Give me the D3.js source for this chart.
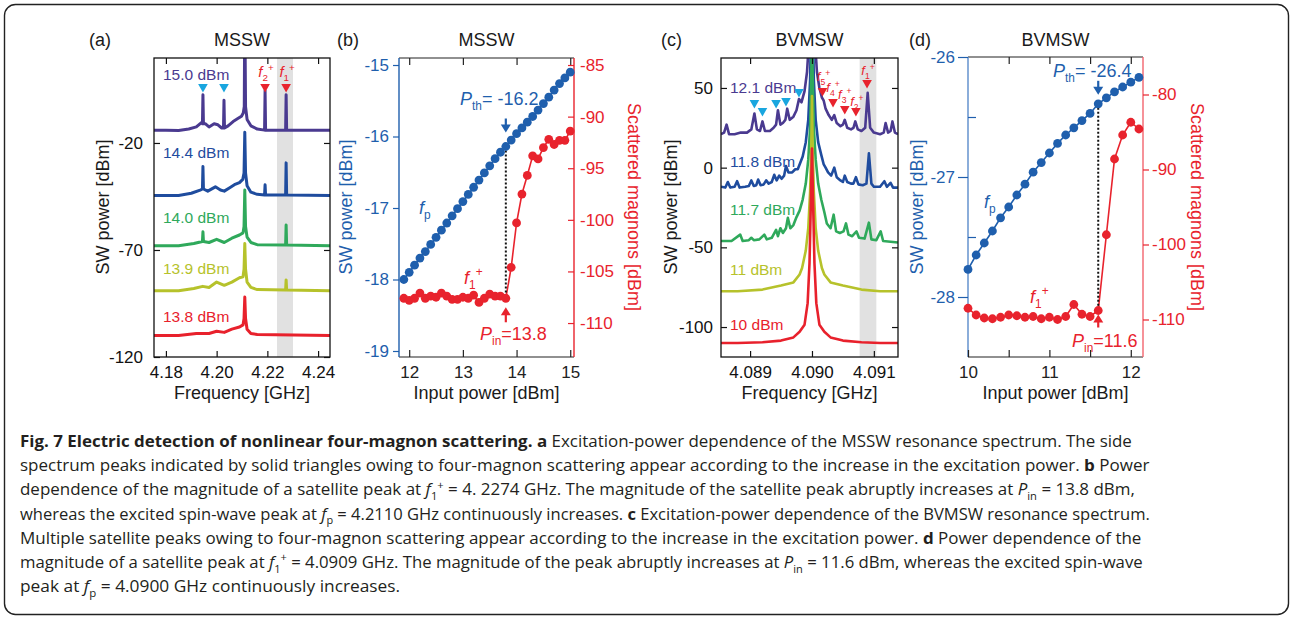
<!DOCTYPE html>
<html>
<head>
<meta charset="utf-8">
<script src="https://cdn.jsdelivr.net/npm/d3@7"></script>
<style>
  body { margin: 0; background: #fff; }
  svg { display: block; }
</style>
</head>
<body>
<script>
// ---------- data ----------
// (a) MSSW spectra, [GHz, dBm]
const msswLevels = ["15.0 dBm", "14.4 dBm", "14.0 dBm", "13.9 dBm", "13.8 dBm"];
const mssw150 = [[4.1753,-14],[4.180,-14],[4.185,-14.2],[4.189,-13.5],[4.192,-12.5],[4.1940,-10.5],[4.1944,-11],[4.1946,2.5],[4.1948,-11],[4.1955,-11],[4.197,-12.5],[4.1990,-11],[4.2005,-11.5],[4.2020,-13],[4.2027,-13],[4.2029,0],[4.2031,-13],[4.2045,-12],[4.2065,-10],[4.2085,-8.5],[4.2098,-7.5],[4.2105,-6],[4.2109,-3],[4.2111,45],[4.2114,-3],[4.2120,-9],[4.2135,-12],[4.216,-13.5],[4.2189,-14],[4.2191,4.5],[4.2193,-14],[4.2230,-14],[4.2272,-14],[4.2274,2.5],[4.2276,-14],[4.235,-14],[4.2447,-14]];
const mssw144 = [[4.1753,-44.5],[4.185,-44.5],[4.190,-43.5],[4.1935,-42],[4.1944,-41.5],[4.1946,-31],[4.1948,-41.5],[4.1965,-42.5],[4.1995,-40.5],[4.2015,-42],[4.203,-42.5],[4.205,-41],[4.207,-39.5],[4.2090,-38.5],[4.2103,-37],[4.2108,-34],[4.2111,-15],[4.2114,-34],[4.2120,-40],[4.2135,-43],[4.216,-44],[4.2189,-44.3],[4.2191,-39.5],[4.2193,-44.3],[4.2272,-44.3],[4.2274,-29.3],[4.2276,-44.3],[4.2447,-44.5]];
const mssw140 = [[4.1753,-68],[4.185,-68],[4.191,-67],[4.1944,-66],[4.1946,-61.5],[4.1948,-66],[4.197,-66.5],[4.2,-65],[4.203,-66.5],[4.206,-64.5],[4.209,-63],[4.2104,-62],[4.2108,-59],[4.2111,-42],[4.2114,-59],[4.212,-64],[4.2135,-66.5],[4.216,-67.5],[4.2272,-67.7],[4.2274,-58.3],[4.2276,-67.7],[4.2447,-68]];
const mssw139 = [[4.1753,-89],[4.185,-89],[4.191,-88],[4.1945,-87],[4.197,-87.5],[4.2,-85],[4.203,-86.5],[4.206,-85],[4.209,-83],[4.2104,-82.5],[4.2108,-79],[4.2111,-67],[4.2114,-79],[4.212,-85],[4.2135,-87.5],[4.216,-88.5],[4.2272,-88.7],[4.2274,-84],[4.2276,-88.7],[4.2447,-89]];
const mssw138 = [[4.1753,-110],[4.185,-110],[4.192,-109],[4.197,-109],[4.2,-108],[4.203,-108.5],[4.206,-107],[4.209,-106],[4.2104,-105],[4.2108,-102],[4.2111,-92],[4.2114,-102],[4.212,-107],[4.2135,-109],[4.216,-109.5],[4.2447,-110]];
const msswBand = [4.2238, 4.2301];
const msswIdlers = [4.1946, 4.2029];
const msswSignals = [4.2191, 4.2274];
const msswSignalNames = ["2", "1"];
const msswFreqTicks = [4.18, 4.20, 4.22, 4.24];
const msswPowTicks = [-120, -70, -20];

// (b) MSSW power dependence
const bInput = [11.9,12.0,12.1,12.2,12.3,12.4,12.5,12.6,12.7,12.8,12.9,13.0,13.1,13.2,13.3,13.4,13.5,13.6,13.7,13.8,13.9,14.0,14.1,14.2,14.3,14.4,14.5,14.6,14.7,14.8,14.9,15.0];
const bPump = [-18.00,-17.90,-17.80,-17.70,-17.61,-17.51,-17.41,-17.31,-17.21,-17.11,-17.01,-16.91,-16.81,-16.71,-16.61,-16.51,-16.41,-16.31,-16.22,-16.14,-16.05,-15.96,-15.88,-15.80,-15.72,-15.63,-15.54,-15.45,-15.35,-15.26,-15.18,-15.10];
const bScatter = [-107.6,-107.8,-107.6,-107.1,-107.6,-107.4,-107.5,-107.1,-107.4,-107.7,-107.7,-107.5,-107.6,-107.3,-108.0,-107.6,-107.2,-107.4,-107.4,-107.6,-104.6,-100.3,-97.5,-95.7,-93.8,-94.1,-93.0,-92.2,-92.7,-92.3,-92.3,-91.4];
const bThreshold = 13.8;
const bXTicks = [12, 13, 14, 15];
const bYTicks = [-19, -18, -17, -16, -15];
const bY2Ticks = [-110, -105, -100, -95, -90, -85];

// (c) BVMSW spectra, [GHz, dBm]
const bvLevels = ["12.1 dBm", "11.8 dBm", "11.7 dBm", "11 dBm", "10 dBm"];
const bv121 = [[4.08853,21],[4.08858,22],[4.08862,27],[4.08866,21],[4.08875,21],[4.08885,22],[4.08895,22],[4.08902,24],[4.08907,34],[4.08911,24],[4.08916,23],[4.0892,29],[4.08924,23],[4.08932,23],[4.08938,25],[4.08942,27],[4.08945,36],[4.08949,27],[4.08953,28],[4.08957,30],[4.0896,37],[4.08964,30],[4.0897,32],[4.08975,36],[4.08979,43],[4.08983,41],[4.08988,48],[4.08992,60],[4.08996,85],[4.08998,120],[4.0900,160],[4.09002,120],[4.09004,85],[4.09008,60],[4.09012,50],[4.09016,44],[4.09019,42],[4.09022,37],[4.09027,33],[4.09032,30],[4.09036,33],[4.0904,28],[4.09046,26],[4.0905,27],[4.09053,30],[4.09057,25],[4.09063,24],[4.09067,25],[4.0907,29],[4.09074,24],[4.0908,23],[4.09086,25],[4.0909,47],[4.09094,25],[4.091,22],[4.0911,21],[4.09116,22],[4.09119,28],[4.09123,22],[4.09127,23],[4.0913,29],[4.09134,22],[4.09139,21]];
const bv118 = [[4.08853,-12],[4.0886,-12.5],[4.08864,-9],[4.08868,-12.5],[4.08875,-12],[4.08879,-8.5],[4.08883,-12.5],[4.08892,-12],[4.08898,-11.5],[4.08902,-8],[4.08906,-11.5],[4.0891,-11],[4.08913,-7.5],[4.08917,-11],[4.08922,-10.5],[4.08926,-8],[4.0893,-10],[4.08935,-9],[4.08939,-4.5],[4.08943,-8],[4.08947,-5],[4.08951,-7],[4.08955,-5],[4.08958,1],[4.08962,-3],[4.08968,-3],[4.08973,-1],[4.08977,-1],[4.0898,2],[4.08985,7],[4.0899,16],[4.08994,30],[4.08997,55],[4.08999,100],[4.0900,130],[4.09001,100],[4.09003,55],[4.09006,30],[4.0901,16],[4.09015,8],[4.09019,2],[4.09022,0],[4.09026,-3],[4.09031,-5],[4.09036,0],[4.0904,-6],[4.09046,-8],[4.0905,-9],[4.09053,-5],[4.09057,-9],[4.09063,-10],[4.09067,-10],[4.09071,-6],[4.09075,-10.5],[4.09082,-11],[4.09088,-10],[4.09092,9],[4.09096,-10],[4.091,-12],[4.0911,-12],[4.09117,-8.5],[4.09121,-12],[4.09127,-9.5],[4.09131,-12.5],[4.09139,-12.5]];
const bv117 = [[4.08853,-46],[4.0887,-46],[4.08884,-42],[4.08888,-46],[4.08898,-45.5],[4.08902,-44],[4.08906,-45.5],[4.08915,-45],[4.08923,-42],[4.08927,-45],[4.08935,-44],[4.08942,-39],[4.08945,-43],[4.08949,-38],[4.08953,-41],[4.08958,-38],[4.08961,-31.5],[4.08965,-38],[4.0897,-36],[4.08975,-31],[4.0898,-27],[4.08985,-20],[4.0899,-10],[4.08994,5],[4.08997,25],[4.08999,60],[4.0900,85],[4.09001,60],[4.09003,25],[4.09006,5],[4.0901,-10],[4.09015,-20],[4.0902,-28],[4.09024,-35],[4.0903,-38],[4.09035,-29.5],[4.09039,-40],[4.09045,-41],[4.09051,-40],[4.09055,-35],[4.09059,-42],[4.09065,-43],[4.09072,-40],[4.09076,-44],[4.09085,-44.5],[4.09092,-34.5],[4.09096,-45],[4.09104,-45.5],[4.09111,-40],[4.09115,-46],[4.09139,-47]];
const bv110 = [[4.08853,-77.5],[4.0888,-77.5],[4.0892,-76.5],[4.0895,-74],[4.0897,-72],[4.0898,-67],[4.08984,-63],[4.0899,-52],[4.08994,-38],[4.08997,-15],[4.08999,15],[4.0900,45],[4.09001,15],[4.09003,-15],[4.09006,-38],[4.0901,-52],[4.09016,-63],[4.0902,-67],[4.0903,-72],[4.0905,-74],[4.0908,-76.5],[4.0911,-77.5],[4.09139,-77.5]];
const bv100 = [[4.08853,-110],[4.0888,-110],[4.0892,-109.5],[4.0895,-108.5],[4.0897,-106.5],[4.0898,-103],[4.08988,-98.5],[4.08993,-85],[4.08996,-60],[4.08998,-25],[4.0900,12],[4.09002,-25],[4.09004,-60],[4.09007,-85],[4.09012,-98.5],[4.0902,-103],[4.0903,-106.5],[4.0905,-108.5],[4.0908,-109.5],[4.0911,-110],[4.09139,-110]];
const bvBand = [4.09077, 4.09104];
const bvIdlers = [4.08907, 4.0892, 4.08942, 4.08958, 4.08979];
const bvSignals = [4.09017, 4.09034, 4.09053, 4.09071, 4.09089];
const bvSignalNames = ["5", "4", "3", "2", "1"];
const bvFreqTicks = [4.089, 4.090, 4.091];
const bvPowTicks = [-100, -50, 0, 50];

// (d) BVMSW power dependence
const dInput = [10.0,10.1,10.2,10.3,10.4,10.5,10.6,10.7,10.8,10.9,11.0,11.1,11.2,11.3,11.4,11.5,11.6,11.7,11.8,11.9,12.0,12.1];
const dPump = [-27.77,-27.65,-27.55,-27.45,-27.34,-27.25,-27.15,-27.06,-26.96,-26.88,-26.80,-26.72,-26.65,-26.59,-26.53,-26.47,-26.39,-26.34,-26.29,-26.25,-26.21,-26.17];
const dScatter = [-108.5,-109.4,-109.8,-109.9,-109.7,-109.4,-109.5,-109.7,-109.6,-109.9,-109.7,-110.0,-109.6,-108.0,-109.3,-109.6,-108.8,-98.7,-88.6,-85.4,-83.7,-84.6];
const dThreshold = 11.6;
const dXTicks = [10, 11, 12];
const dXMinor = [10.5, 11, 11.5, 12];
const dYTicks = [-28, -27, -26];
const dYMinor = [-27.5, -26.5];
const dY2Ticks = [-110, -100, -90, -80];

// ---------- drawing ----------
const FONT = "'Liberation Sans', Arial, Helvetica, sans-serif";
const BLUE = "#1f5fad", RED = "#e8232d";
const traceColors = ["#4a3a90", "#1f4c9e", "#2fa95b", "#b6c22b", "#e8212c"];

const svg = d3.select("body").append("svg").attr("width", 1293).attr("height", 621);

svg.append("rect").attr("x", 4.5).attr("y", 4.5).attr("width", 1284).attr("height", 610)
  .attr("rx", 11).attr("fill", "none").attr("stroke", "#222").attr("stroke-width", 1.4);

function rich(t, parts, fs) {
  let shift = 0;
  parts.forEach(([s, k]) => {
    const ts = t.append("tspan").text(s);
    let target = 0;
    if (k === "sub") { target = 0.28 * fs; ts.attr("font-size", fs * 0.66); }
    if (k === "sup") { target = -0.42 * fs; ts.attr("font-size", fs * 0.66); }
    if (k === "i") ts.attr("font-style", "italic");
    if (k === "b") ts.attr("font-weight", "bold");
    if (target !== shift) { ts.attr("dy", target - shift); shift = target; }
  });
  return t;
}

function text(x, y, s, o = {}) {
  const t = svg.append("text").attr("x", x).attr("y", y)
    .attr("font-family", o.font || FONT).attr("font-size", o.size || 18)
    .attr("fill", o.color || "#1a1a1a").attr("text-anchor", o.anchor || "start");
  if (o.rotate) t.attr("transform", `rotate(${o.rotate},${x},${y})`);
  if (Array.isArray(s)) rich(t, s, o.size || 18); else t.text(s);
  return t;
}

function axis(gen, tx, ty, color, fs) {
  const g = svg.append("g").attr("transform", `translate(${tx},${ty})`).call(gen);
  g.attr("font-family", FONT).attr("font-size", fs || 17).attr("color", color);
  g.select(".domain").remove();
  g.selectAll(".tick line").attr("stroke-width", 1.2);
  return g;
}

const num = d => String(d);

function tri(x, y, color) {
  svg.append("path")
    .attr("d", `M${x - 4.8},${y - 4} L${x + 4.8},${y - 4} L${x},${y + 4.5} Z`)
    .attr("fill", color);
}

function arrow(x, tail, tip, color) {
  const dir = tip > tail ? 1 : -1;
  svg.append("line").attr("x1", x).attr("x2", x).attr("y1", tail).attr("y2", tip - dir * 6)
    .attr("stroke", color).attr("stroke-width", 2.2);
  svg.append("path")
    .attr("d", `M${x - 5},${tip - dir * 8} L${x + 5},${tip - dir * 8} L${x},${tip} Z`)
    .attr("fill", color);
}

// ---- spectrum panels (a) and (c)
function spectrumPanel(p) {
  const x = d3.scaleLinear().domain(p.xDomain).range([p.left, p.right]);
  const y = d3.scaleLinear().domain(p.yDomain).range([p.bottom, p.top]);
  const clip = "clip" + p.id;
  svg.append("clipPath").attr("id", clip).append("rect")
    .attr("x", p.left).attr("y", p.top).attr("width", p.right - p.left).attr("height", p.bottom - p.top);
  const g = svg.append("g").attr("clip-path", `url(#${clip})`);
  g.append("rect").attr("x", x(p.band[0])).attr("width", x(p.band[1]) - x(p.band[0]))
    .attr("y", p.top).attr("height", p.bottom - p.top).attr("fill", "#e1e1e1");
  const line = d3.line().x(d => x(d[0])).y(d => y(d[1]));
  p.traces.forEach((tr, i) => {
    g.append("path").attr("d", line(tr)).attr("fill", "none")
      .attr("stroke", traceColors[i]).attr("stroke-width", p.lw).attr("stroke-linejoin", "round");
  });
  // frame and ticks
  svg.append("rect").attr("x", p.left).attr("y", p.top).attr("width", p.right - p.left)
    .attr("height", p.bottom - p.top).attr("fill", "none").attr("stroke", "#111").attr("stroke-width", 1.3);
  axis(d3.axisBottom(x).tickValues(p.xTicks).tickFormat(d3.format(p.xFmt)).tickSizeInner(-6).tickSizeOuter(0).tickPadding(9), 0, p.bottom, "#111");
  axis(d3.axisTop(x).tickValues(p.xTicks).tickFormat("").tickSizeInner(-6).tickSizeOuter(0), 0, p.top, "#111");
  axis(d3.axisLeft(y).tickValues(p.yTicks).tickFormat(num).tickSizeInner(-6).tickSizeOuter(0).tickPadding(p.yPad), p.left, 0, "#111");
  axis(d3.axisRight(y).tickValues(p.yTicks).tickFormat("").tickSizeInner(-6).tickSizeOuter(0), p.right, 0, "#111");
  // level labels
  p.levels.forEach((s, i) => text(p.labelX, p.labelY[i], s, { size: 15.5, color: traceColors[i] }));
  // markers
  p.idlers.forEach((f, i) => tri(x(f), p.idlerY[i], "#19a6df"));
  p.signals.forEach((f, i) => {
    tri(x(f), p.signalY[i], RED);
    text(x(f) + p.nameDx[i], p.nameY[i], [["f", "i"], [p.signalNames[i], "sub"], ["+", "sup"]], { size: p.nameSize, color: RED, anchor: "middle" });
  });
  // titles and axis labels
  const cx = (p.left + p.right) / 2;
  text(p.tagX, 46, p.tag, { size: 18 });
  text(cx, 46, p.title, { size: 18, anchor: "middle" });
  text(cx, 399, "Frequency [GHz]", { size: 18, anchor: "middle" });
  text(p.yLabelX, 207, "SW power [dBm]", { size: 18, anchor: "middle", rotate: -90 });
  return { x, y };
}

spectrumPanel({
  id: "a", left: 154, right: 330, top: 58, bottom: 357, lw: 3,
  xDomain: [4.1753, 4.2447], yDomain: [-120, 19.7],
  traces: [mssw150, mssw144, mssw140, mssw139, mssw138],
  band: msswBand, xTicks: msswFreqTicks, yTicks: msswPowTicks, xFmt: ".2f", yPad: 11,
  levels: msswLevels, labelX: 163, labelY: [80, 158, 223, 274, 322],
  idlers: msswIdlers, idlerY: [88, 88],
  signals: msswSignals, signalY: [88, 88], signalNames: msswSignalNames,
  nameDx: [1, 1], nameY: [77, 77], nameSize: 15,
  tag: "(a)", tagX: 89, title: "MSSW", yLabelX: 109
});

spectrumPanel({
  id: "c", left: 721, right: 898, top: 58, bottom: 357, lw: 2.6,
  xDomain: [4.08853, 4.09139], yDomain: [-118.8, 68.8],
  traces: [bv121, bv118, bv117, bv110, bv100],
  band: bvBand, xTicks: bvFreqTicks, yTicks: bvPowTicks, xFmt: ".3f", yPad: 8,
  levels: bvLevels, labelX: 730, labelY: [93, 167, 215, 275, 330],
  idlers: bvIdlers, idlerY: [104, 112, 104, 102, 93],
  signals: bvSignals, signalY: [92, 103, 110, 112, 84], signalNames: bvSignalNames,
  nameDx: [1, 0, 0, 1, 1], nameY: [81, 92, 99, 106, 75], nameSize: 13,
  tag: "(c)", tagX: 661, title: "BVMSW", yLabelX: 677
});

// ---- power dependence panels (b) and (d)
function powerPanel(p) {
  const x = d3.scaleLinear().domain(p.xDomain).range([p.left, p.right]);
  const y = d3.scaleLinear().domain(p.yDomain).range([p.bottom, p.top]);
  const y2 = d3.scaleLinear().domain(p.y2Domain).range([p.bottom, p.top]);
  // frame: black top/bottom, coloured sides
  svg.append("line").attr("x1", p.left).attr("x2", p.right).attr("y1", p.top).attr("y2", p.top).attr("stroke", "#222").attr("stroke-width", 1.2);
  svg.append("line").attr("x1", p.left).attr("x2", p.right).attr("y1", p.bottom).attr("y2", p.bottom).attr("stroke", "#222").attr("stroke-width", 1.2);
  svg.append("line").attr("x1", p.left).attr("x2", p.left).attr("y1", p.top).attr("y2", p.bottom).attr("stroke", p.leftColor).attr("stroke-width", 1.4);
  svg.append("line").attr("x1", p.right).attr("x2", p.right).attr("y1", p.top).attr("y2", p.bottom).attr("stroke", p.rightColor).attr("stroke-width", 1.4);

  axis(d3.axisBottom(x).tickValues(p.xTicks).tickFormat(num).tickSizeInner(-7).tickSizeOuter(0).tickPadding(9), 0, p.bottom, "#222");
  if (p.xMinor) axis(d3.axisBottom(x).tickValues(p.xMinor).tickFormat("").tickSizeInner(-7).tickSizeOuter(0), 0, p.bottom, "#222");
  axis(d3.axisTop(x).tickValues(p.xTop).tickFormat("").tickSizeInner(-7).tickSizeOuter(0), 0, p.top, "#222");
  axis(d3.axisLeft(y).tickValues(p.yTicks).tickFormat(num).tickSizeInner(p.yTick).tickSizeOuter(0).tickPadding(p.yPad), p.left, 0, BLUE);
  if (p.yMinor) axis(d3.axisLeft(y).tickValues(p.yMinor).tickFormat("").tickSizeInner(-8).tickSizeOuter(0), p.left, 0, BLUE);
  axis(d3.axisRight(y2).tickValues(p.y2Ticks).tickFormat(num).tickSizeInner(p.y2Tick).tickSizeOuter(0).tickPadding(p.y2Pad), p.right, 0, RED);

  const pump = p.input.map((v, i) => [v, p.pump[i]]);
  const scat = p.input.map((v, i) => [v, p.scatter[i]]);
  svg.append("path").attr("d", d3.line().x(d => x(d[0])).y(d => y(d[1]))(pump))
    .attr("fill", "none").attr("stroke", BLUE).attr("stroke-width", 1.6);
  svg.append("path").attr("d", d3.line().x(d => x(d[0])).y(d => y2(d[1]))(scat))
    .attr("fill", "none").attr("stroke", RED).attr("stroke-width", 1.6);

  // threshold marker
  const k = p.input.indexOf(p.threshold);
  const tx = x(p.threshold);
  const yp = y(p.pump[k]), ys = y2(p.scatter[k]);
  svg.append("line").attr("x1", tx).attr("x2", tx).attr("y1", yp).attr("y2", ys)
    .attr("stroke", "#111").attr("stroke-width", 2).attr("stroke-dasharray", "2,2");

  svg.selectAll(null).data(scat).join("circle")
    .attr("cx", d => x(d[0])).attr("cy", d => y2(d[1])).attr("r", 4.4).attr("fill", RED);
  svg.selectAll(null).data(pump).join("circle")
    .attr("cx", d => x(d[0])).attr("cy", d => y(d[1])).attr("r", 4.4).attr("fill", BLUE);

  arrow(tx, yp - p.thArrow[0], yp - p.thArrow[1], BLUE);
  arrow(tx, ys + p.inArrow[0], ys + p.inArrow[1], RED);
  text(p.thX, yp - p.thGap, [["P", "i"], ["th", "sub"], ["= " + p.thLabel, ""]], { size: 18, color: BLUE });
  text(p.inX, ys + p.inGap, [["P", "i"], ["in", "sub"], ["=" + p.threshold, ""]], { size: 18, color: RED });
  text(p.fpPos[0], p.fpPos[1], [["f", "i"], ["p", "sub"]], { size: 18, color: BLUE });
  text(p.f1Pos[0], p.f1Pos[1], [["f", "i"], ["1", "sub"], ["+", "sup"]], { size: 18, color: RED });

  const cx = (p.left + p.right) / 2;
  text(p.tagX, 46, p.tag, { size: 18 });
  text(cx, 46, p.title, { size: 18, anchor: "middle" });
  text(cx, 399, "Input power [dBm]", { size: 18, anchor: "middle" });
  text(p.yLabelX, 207, "SW power [dBm]", { size: 18, anchor: "middle", rotate: -90, color: BLUE });
  text(p.y2LabelX, 207, "Scattered magnons [dBm]", { size: 18, anchor: "middle", rotate: 90, color: RED });
}

powerPanel({
  left: 399, right: 574, top: 58, bottom: 357,
  xDomain: [11.81, 15.07], yDomain: [-19.084, -14.902], y2Domain: [-113.29, -84.32],
  leftColor: BLUE, rightColor: RED,
  xTicks: bXTicks, xTop: bXTicks, yTicks: bYTicks, y2Ticks: bY2Ticks,
  yTick: 6, yPad: 4, y2Tick: -6, y2Pad: 6,
  input: bInput, pump: bPump, scatter: bScatter, threshold: bThreshold, thLabel: "-16.2",
  thArrow: [28, 14], thGap: 42, inArrow: [24, 9], inGap: 42,
  thX: 460, inX: 480, fpPos: [419, 214], f1Pos: [464, 284],
  tag: "(b)", tagX: 337, title: "MSSW", yLabelX: 352, y2LabelX: 628
});

powerPanel({
  left: 968, right: 1143, top: 57, bottom: 357,
  xDomain: [10, 12.15], yDomain: [-28.5, -26], y2Domain: [-115, -75],
  leftColor: "#5a8bcb", rightColor: "#f2646d",
  xTicks: dXTicks, xMinor: [10.5, 11.5], xTop: dXMinor, yTicks: dYTicks, yMinor: dYMinor, y2Ticks: dY2Ticks,
  yTick: 10, yPad: 3, y2Tick: 6, y2Pad: 3,
  input: dInput, pump: dPump, scatter: dScatter, threshold: dThreshold, thLabel: "-26.4",
  thArrow: [23, 9], thGap: 27, inArrow: [17, 4], inGap: 36,
  thX: 1053, inX: 1072, fpPos: [984, 208], f1Pos: [1030, 303],
  tag: "(d)", tagX: 909, title: "BVMSW", yLabelX: 923, y2LabelX: 1191
});

// ---------- caption ----------
const captionLines = [
  [["Fig. 7 Electric detection of nonlinear four-magnon scattering. a", "b"], [" Excitation-power dependence of the MSSW resonance spectrum. The side", ""]],
  [["spectrum peaks indicated by solid triangles owing to four-magnon scattering appear according to the increase in the excitation power. ", ""], ["b", "b"], [" Power", ""]],
  [["dependence of the magnitude of a satellite peak at ", ""], ["f", "i"], ["1", "sub"], ["+", "sup"], [" = 4. 2274 GHz. The magnitude of the satellite peak abruptly increases at ", ""], ["P", "i"], ["in", "sub"], [" = 13.8 dBm,", ""]],
  [["whereas the excited spin-wave peak at ", ""], ["f", "i"], ["p", "sub"], [" = 4.2110 GHz continuously increases. ", ""], ["c", "b"], [" Excitation-power dependence of the BVMSW resonance spectrum.", ""]],
  [["Multiple satellite peaks owing to four-magnon scattering appear according to the increase in the excitation power. ", ""], ["d", "b"], [" Power dependence of the", ""]],
  [["magnitude of a satellite peak at ", ""], ["f", "i"], ["1", "sub"], ["+", "sup"], [" = 4.0909 GHz. The magnitude of the peak abruptly increases at ", ""], ["P", "i"], ["in", "sub"], [" = 11.6 dBm, whereas the excited spin-wave", ""]],
  [["peak at ", ""], ["f", "i"], ["p", "sub"], [" = 4.0900 GHz continuously increases.", ""]]
];
const captionEnds = [1132, 1150, 1135, 1150, 1142, 1142, 400];

captionLines.forEach((parts, i) => {
  const yb = 447 + i * 24.2;
  const g = svg.append("g");
  const t = g.append("text").attr("x", 20).attr("y", yb)
    .attr("font-family", "'Open Sans', 'Noto Sans', sans-serif").attr("font-size", 16.2).attr("fill", "#231f20");
  rich(t, parts, 16.2);
  const w = t.node().getBBox().width;
  const s = (captionEnds[i] - 20) / w;
  g.attr("transform", `translate(20,0) scale(${s},1) translate(-20,0)`);
});
</script>
</body>
</html>
